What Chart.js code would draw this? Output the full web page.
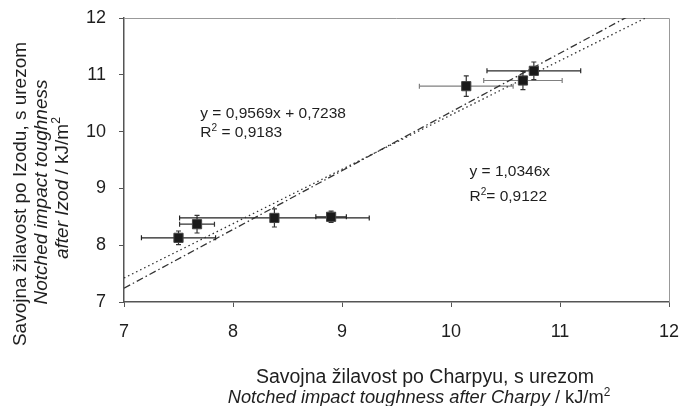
<!DOCTYPE html>
<html>
<head>
<meta charset="utf-8">
<script src="https://cdn.jsdelivr.net/npm/chart.js@4"></script>
<style>
    body { margin: 0; background: #fff; }
    #wrap { width: 698px; height: 406px; }
</style>
</head>
<body>
<div id="wrap"><canvas id="toughness-chart" width="698" height="406"></canvas></div>
<script>
(function () {
    "use strict";

    // Data
    var charpy = [7.50, 7.67, 8.38, 8.90, 10.14, 10.66, 10.76];
    var izod = [8.13, 8.37, 8.48, 8.50, 10.80, 10.90, 11.07];
    var charpyErr = [0.34, 0.16, 0.87, 0.14, 0.43, 0.36, 0.43];
    var izodErr = [0.12, 0.155, 0.16, 0.10, 0.18, 0.16, 0.155];

    // Trend lines shown on the figure
    var fitSlopes = [0.9569, 1.0346];
    var fitIntercepts = [0.7238, 0];
    var fitRange = [7, 12];
    var fitLabels = [
        ["y = 0,9569x + 0,7238", "R² = 0,9183"],
        ["y = 1,0346x", "R²= 0,9122"]
    ];

    var tickValues = [7, 8, 9, 10, 11, 12];

    var FONT = "'Liberation Sans', Arial, sans-serif";
    var TEXT = "#1e1e1e";

    var points = charpy.map(function (x, i) {
        return { x: x, y: izod[i] };
    });

    function fitLine(k) {
        return fitRange.map(function (x) {
            return { x: x, y: fitSlopes[k] * x + fitIntercepts[k] };
        });
    }

    // draw a line of mixed text: segments are [text, italic, superscript]
    function drawRich(ctx, segs, x, y, size, align) {
        var widths = segs.map(function (s) {
            ctx.font = (s[1] ? "italic " : "") + (s[2] ? size * 0.65 : size) + "px " + FONT;
            return ctx.measureText(s[0]).width;
        });
        var total = widths.reduce(function (a, b) { return a + b; }, 0);
        var cx = align === "center" ? x - total / 2 : x;
        ctx.textAlign = "left";
        ctx.textBaseline = "alphabetic";
        segs.forEach(function (s, i) {
            ctx.font = (s[1] ? "italic " : "") + (s[2] ? size * 0.65 : size) + "px " + FONT;
            ctx.fillText(s[0], cx, s[2] ? y - size * 0.4 : y);
            cx += widths[i];
        });
    }

    // Error bars, frame and text
    var extras = {
        id: "extras",
        beforeDatasetsDraw: function (chart) {
            var ctx = chart.ctx;
            var xs = chart.scales.x, ys = chart.scales.y;
            var area = chart.chartArea;
            var hColors = ["#222", "#333", "#222", "#222", "#808080", "#808080", "#2a2a2a"];

            ctx.save();
            // top and right frame
            ctx.strokeStyle = "#999";
            ctx.lineWidth = 1;
            ctx.beginPath();
            ctx.moveTo(area.left, area.top + 0.5);
            ctx.lineTo(area.right + 0.5, area.top + 0.5);
            ctx.lineTo(area.right + 0.5, area.bottom);
            ctx.stroke();

            ctx.lineWidth = 1.2;
            charpy.forEach(function (v, i) {
                var px = xs.getPixelForValue(v);
                var py = ys.getPixelForValue(izod[i]);
                var x0 = xs.getPixelForValue(v - charpyErr[i]);
                var x1 = xs.getPixelForValue(v + charpyErr[i]);
                var y0 = ys.getPixelForValue(izod[i] - izodErr[i]);
                var y1 = ys.getPixelForValue(izod[i] + izodErr[i]);
                ctx.strokeStyle = hColors[i];
                ctx.beginPath();
                ctx.moveTo(x0, py); ctx.lineTo(x1, py);
                ctx.moveTo(x0, py - 2.5); ctx.lineTo(x0, py + 2.5);
                ctx.moveTo(x1, py - 2.5); ctx.lineTo(x1, py + 2.5);
                ctx.stroke();
                ctx.strokeStyle = "#333";
                ctx.beginPath();
                ctx.moveTo(px, y0); ctx.lineTo(px, y1);
                ctx.moveTo(px - 2.5, y0); ctx.lineTo(px + 2.5, y0);
                ctx.moveTo(px - 2.5, y1); ctx.lineTo(px + 2.5, y1);
                ctx.stroke();
            });
            ctx.restore();
        },
        afterDraw: function (chart) {
            var ctx = chart.ctx;
            var xs = chart.scales.x, ys = chart.scales.y;
            ctx.save();
            ctx.fillStyle = TEXT;

            // regression labels (anchored in data units)
            var spots = [[7.70, 10.24, 9.90], [10.17, 9.21, 8.78]];
            spots.forEach(function (s, k) {
                var lx = xs.getPixelForValue(s[0]);
                var eq = fitLabels[k][0];
                var r2 = fitLabels[k][1].replace("²", "");
                drawRich(ctx, [[eq, false, false]], lx, ys.getPixelForValue(s[1]), 15.5, "left");
                drawRich(ctx, [["R", false, false], ["2", false, true], [r2.slice(1), false, false]],
                    lx, ys.getPixelForValue(s[2]), 15.5, "left");
            });

            // x axis title
            drawRich(ctx, [["Savojna žilavost po Charpyu, s urezom", false, false]], 425, 383, 19.5, "center");
            drawRich(ctx, [["Notched impact toughness after Charpy", true, false], [" / kJ/m", false, false], ["2", false, true]],
                419, 403, 18.3, "center");

            // y axis title
            var ylines = [
                [26, 194, [["Savojna žilavost po Izodu, s urezom", false, false]]],
                [47, 192, [["Notched impact toughness", true, false]]],
                [68, 188, [["after Izod", true, false], [" / kJ/m", false, false], ["2", false, true]]]
            ];
            ylines.forEach(function (l) {
                ctx.save();
                ctx.translate(l[0], l[1]);
                ctx.rotate(-Math.PI / 2);
                drawRich(ctx, l[2], 0, 0, 19, "center");
                ctx.restore();
            });
            ctx.restore();
        }
    };

    var axisStyle = function (pad) {
        return {
            type: "linear",
            min: 7,
            max: 12,
            afterBuildTicks: function (scale) {
                scale.ticks = tickValues.map(function (v) { return { value: v }; });
            },
            grid: { drawOnChartArea: false, drawTicks: true, tickLength: 5, color: "#555", lineWidth: 1 },
            border: { color: "#555", width: 1.5 },
            ticks: { color: TEXT, padding: pad, font: { family: FONT, size: 18 } }
        };
    };

    var xAxis = axisStyle(14);
    xAxis.afterFit = function (scale) {
        scale.height = 104;
        scale.paddingLeft = 0;
        scale.paddingRight = 0;
    };
    var yAxis = axisStyle(13);
    yAxis.afterFit = function (scale) {
        scale.width = 124;
        scale.paddingTop = 0;
        scale.paddingBottom = 0;
    };

    // Scatter Chart
    var ctx1 = document.getElementById("toughness-chart").getContext("2d");
    var myChart1 = new Chart(ctx1, {
        type: "scatter",
        data: {
            datasets: [{
                label: "linear fit",
                type: "line",
                data: fitLine(0),
                borderColor: "#333",
                borderWidth: 1.3,
                borderDash: [1.5, 3],
                pointRadius: 0,
                fill: false,
                clip: 0,
                order: 2
            }, {
                label: "through origin",
                type: "line",
                data: fitLine(1),
                borderColor: "#333",
                borderWidth: 1.3,
                borderDash: [7, 3, 1.5, 3],
                pointRadius: 0,
                fill: false,
                clip: 0,
                order: 2
            }, {
                label: "measured",
                data: points,
                pointStyle: "rect",
                pointRadius: 6.5,
                pointBackgroundColor: "#1a1a1a",
                pointBorderColor: "#444",
                pointBorderWidth: 1,
                order: 1
            }]
        },
        options: {
            responsive: false,
            animation: false,
            layout: { padding: { top: 18, right: 29, left: 0, bottom: 0 } },
            plugins: { legend: { display: false }, tooltip: { enabled: false } },
            scales: { x: xAxis, y: yAxis }
        },
        plugins: [extras]
    });

})();
</script>
</body>
</html>
